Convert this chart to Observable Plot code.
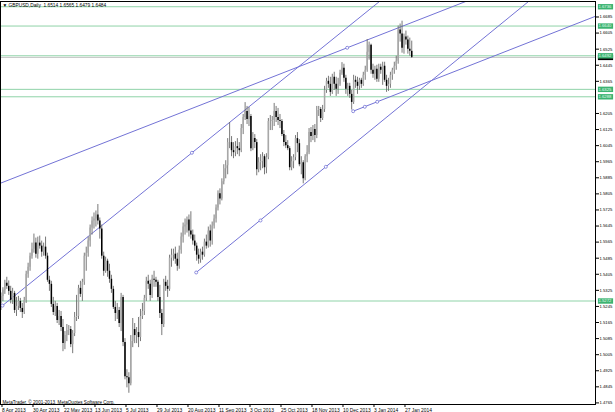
<!DOCTYPE html>
<html><head><meta charset="utf-8">
<script src="https://cdn.jsdelivr.net/npm/d3@7"></script>
<script src="https://cdn.jsdelivr.net/npm/@observablehq/plot@0.6"></script>
<style>html,body{margin:0;padding:0;background:#fff;}</style>
</head><body><div id="chart"></div>
<script>
// ---- data (daily bars, 8 Apr 2013 .. 31 Jan 2014) ----
const open = [
1.5260,1.5295,1.5325,1.5360,1.5345, 1.5320,1.5275,1.5310,1.5225,1.5245, 1.5270,1.5235,1.5215,1.5275,1.5405,
1.5440,1.5495,1.5530,1.5560,1.5505, 1.5560,1.5545,1.5515,1.5540,1.5495, 1.5375,1.5355,1.5255,1.5215,1.5245,
1.5175,1.5195,1.5140,1.5060,1.5100, 1.5125,1.5130,1.5055,1.5110,1.5190, 1.5195,1.5335,1.5305,1.5365,1.5495,
1.5510,1.5570,1.5635,1.5670,1.5680, 1.5700,1.5670,1.5630,1.5495,1.5420, 1.5470,1.5420,1.5380,1.5330,1.5240,
1.5210,1.5225,1.5160,1.5290,1.5065, 1.4895,1.4890,1.4860,1.5070,1.5130, 1.5100,1.5115,1.5090,1.5195,1.5220,
1.5285,1.5370,1.5355,1.5300,1.5380, 1.5375,1.5365,1.5290,1.5210,1.5155, 1.5365,1.5345,1.5330,1.5485,1.5500,
1.5505,1.5480,1.5445,1.5525,1.5590, 1.5640,1.5650,1.5675,1.5620,1.5600, 1.5570,1.5545,1.5500,1.5480,1.5515,
1.5500,1.5565,1.5545,1.5620,1.5570, 1.5645,1.5680,1.5735,1.5805,1.5780, 1.5865,1.5930,1.5945,1.6060,1.6060,
1.6020,1.6010,1.6040,1.6030,1.6020, 1.6130,1.6185,1.6215,1.6175,1.6190, 1.6030,1.6080,1.6060,1.5925,1.5960,
1.5965,1.5990,1.5935,1.5985,1.6165, 1.6165,1.6170,1.6215,1.6185,1.6170, 1.6165,1.6100,1.6060,1.6045,1.6030,
1.5935,1.5965,1.5985,1.6080,1.6055, 1.5950,1.5960,1.5880,1.5990,1.6010, 1.6110,1.6090,1.6125,1.6095,1.6220,
1.6225,1.6180,1.6225,1.6320,1.6365, 1.6350,1.6310,1.6385,1.6350,1.6325, 1.6350,1.6405,1.6430,1.6380,1.6325,
1.6340,1.6300,1.6260,1.6370,1.6360, 1.6340,1.6370,1.6350,1.6395, 1.6420,1.6510,1.6545,1.6420,
1.6400,1.6425,1.6375,1.6435,1.6420, 1.6440,1.6370,1.6340,1.6350,1.6395, 1.6420,1.6440,1.6465,1.6620,1.6600,
1.6530,1.6585,1.6570,1.6525,1.6514];
const high = [
1.5312,1.5338,1.5375,1.5390,1.5372, 1.5345,1.5335,1.5320,1.5290,1.5295, 1.5285,1.5260,1.5290,1.5420,1.5460,
1.5510,1.5560,1.5605,1.5585,1.5590, 1.5595,1.5570,1.5560,1.5590,1.5510, 1.5395,1.5370,1.5290,1.5270,1.5260,
1.5225,1.5220,1.5180,1.5120,1.5155, 1.5150,1.5145,1.5125,1.5215,1.5300, 1.5350,1.5370,1.5380,1.5510,1.5540,
1.5590,1.5650,1.5690,1.5710,1.5720, 1.5752,1.5685,1.5650,1.5515,1.5490, 1.5480,1.5455,1.5400,1.5345,1.5270,
1.5260,1.5240,1.5310,1.5300,1.5085, 1.4930,1.4915,1.5100,1.5185,1.5160, 1.5140,1.5190,1.5230,1.5260,1.5300,
1.5390,1.5400,1.5375,1.5400,1.5420, 1.5390,1.5375,1.5350,1.5230,1.5380, 1.5395,1.5375,1.5500,1.5530,1.5530,
1.5540,1.5510,1.5545,1.5610,1.5660, 1.5680,1.5690,1.5700,1.5716,1.5625, 1.5600,1.5560,1.5530,1.5530,1.5540,
1.5580,1.5600,1.5640,1.5650,1.5665, 1.5700,1.5750,1.5820,1.5830,1.5880, 1.5950,1.5970,1.6080,1.6160,1.6090,
1.6060,1.6065,1.6080,1.6060,1.6150, 1.6200,1.6259,1.6240,1.6235,1.6200, 1.6110,1.6100,1.6075,1.5985,1.6000,
1.6010,1.6000,1.6005,1.6180,1.6195, 1.6190,1.6255,1.6240,1.6230,1.6200, 1.6175,1.6120,1.6095,1.6070,1.6040,
1.5990,1.6000,1.6095,1.6110,1.6075, 1.5990,1.5970,1.6000,1.6045,1.6130, 1.6135,1.6145,1.6150,1.6240,1.6240,
1.6235,1.6245,1.6340,1.6380,1.6390, 1.6385,1.6400,1.6410,1.6385,1.6380, 1.6420,1.6458,1.6450,1.6395,1.6355,
1.6355,1.6320,1.6395,1.6390,1.6385, 1.6380,1.6380,1.6410,1.6440, 1.6573,1.6560,1.6550,1.6450,
1.6440,1.6445,1.6450,1.6450,1.6460, 1.6460,1.6395,1.6380,1.6410,1.6430, 1.6460,1.6490,1.6640,1.6650,1.6664,
1.6600,1.6615,1.6590,1.6580,1.6565];
const low = [
1.5225,1.5270,1.5305,1.5330,1.5300, 1.5258,1.5255,1.5210,1.5195,1.5225, 1.5215,1.5185,1.5205,1.5260,1.5385,
1.5420,1.5480,1.5510,1.5485,1.5480, 1.5530,1.5490,1.5495,1.5480,1.5365, 1.5320,1.5240,1.5200,1.5195,1.5160,
1.5150,1.5120,1.5020,1.5030,1.5070, 1.5100,1.5040,1.5010,1.5095,1.5170, 1.5180,1.5290,1.5270,1.5350,1.5420,
1.5490,1.5540,1.5600,1.5630,1.5640, 1.5650,1.5580,1.5480,1.5395,1.5410, 1.5390,1.5360,1.5310,1.5230,1.5170,
1.5180,1.5140,1.5120,1.5045,1.4880, 1.4840,1.4813,1.4850,1.5040,1.5060, 1.5060,1.5040,1.5070,1.5180,1.5200,
1.5270,1.5330,1.5270,1.5285,1.5340, 1.5340,1.5270,1.5185,1.5100,1.5140, 1.5320,1.5290,1.5320,1.5440,1.5470,
1.5455,1.5420,1.5430,1.5505,1.5560, 1.5600,1.5610,1.5590,1.5580,1.5550, 1.5520,1.5470,1.5455,1.5460,1.5475,
1.5490,1.5530,1.5535,1.5540,1.5550, 1.5630,1.5660,1.5720,1.5750,1.5770, 1.5850,1.5880,1.5900,1.6030,1.5990,
1.5980,1.5990,1.6000,1.5990,1.6010, 1.6100,1.6170,1.6150,1.6140,1.6015, 1.6020,1.6030,1.5895,1.5910,1.5920,
1.5930,1.5900,1.5905,1.5975,1.6120, 1.6120,1.6140,1.6160,1.6145,1.6130, 1.6090,1.6040,1.6030,1.6020,1.5920,
1.5920,1.5930,1.5970,1.6010,1.5940, 1.5900,1.5855,1.5870,1.5960,1.6000, 1.6060,1.6070,1.6060,1.6080,1.6190,
1.6160,1.6170,1.6210,1.6305,1.6330, 1.6290,1.6300,1.6320,1.6290,1.6300, 1.6340,1.6395,1.6360,1.6300,1.6290,
1.6280,1.6222,1.6250,1.6330,1.6300, 1.6320,1.6330,1.6340,1.6370, 1.6410,1.6470,1.6400,1.6380,
1.6370,1.6360,1.6360,1.6400,1.6345, 1.6360,1.6310,1.6315,1.6330,1.6370, 1.6400,1.6420,1.6450,1.6560,1.6505,
1.6500,1.6545,1.6500,1.6490,1.6479];
const close = [
1.5295,1.5325,1.5360,1.5345,1.5320, 1.5275,1.5310,1.5225,1.5245,1.5270, 1.5235,1.5215,1.5275,1.5405,1.5440,
1.5495,1.5530,1.5560,1.5505,1.5560, 1.5545,1.5515,1.5540,1.5495,1.5375, 1.5355,1.5255,1.5215,1.5245,1.5175,
1.5195,1.5140,1.5060,1.5100,1.5125, 1.5130,1.5055,1.5110,1.5190,1.5195, 1.5335,1.5305,1.5365,1.5495,1.5510,
1.5570,1.5635,1.5670,1.5680,1.5700, 1.5670,1.5630,1.5495,1.5420,1.5470, 1.5420,1.5380,1.5330,1.5240,1.5210,
1.5225,1.5160,1.5290,1.5065,1.4895, 1.4890,1.4860,1.5070,1.5130,1.5100, 1.5115,1.5090,1.5195,1.5220,1.5285,
1.5370,1.5355,1.5300,1.5380,1.5375, 1.5365,1.5290,1.5210,1.5155,1.5365, 1.5345,1.5330,1.5485,1.5500,1.5505,
1.5480,1.5445,1.5525,1.5590,1.5640, 1.5650,1.5675,1.5620,1.5600,1.5570, 1.5545,1.5500,1.5480,1.5515,1.5500,
1.5565,1.5545,1.5620,1.5570,1.5645, 1.5680,1.5735,1.5805,1.5780,1.5865, 1.5930,1.5945,1.6060,1.6060,1.6020,
1.6010,1.6040,1.6030,1.6020,1.6130, 1.6185,1.6215,1.6175,1.6190,1.6030, 1.6080,1.6060,1.5925,1.5960,1.5965,
1.5990,1.5935,1.5985,1.6165,1.6165, 1.6170,1.6215,1.6185,1.6170,1.6165, 1.6100,1.6060,1.6045,1.6030,1.5935,
1.5965,1.5985,1.6080,1.6055,1.5950, 1.5960,1.5880,1.5990,1.6010,1.6110, 1.6090,1.6125,1.6095,1.6220,1.6225,
1.6180,1.6225,1.6320,1.6365,1.6350, 1.6310,1.6385,1.6350,1.6325,1.6350, 1.6405,1.6430,1.6380,1.6325,1.6340,
1.6300,1.6260,1.6370,1.6360,1.6340, 1.6370,1.6350,1.6395,1.6420, 1.6510,1.6545,1.6420,1.6400,
1.6425,1.6375,1.6435,1.6420,1.6440, 1.6370,1.6340,1.6350,1.6395,1.6420, 1.6440,1.6465,1.6620,1.6600,1.6530,
1.6585,1.6570,1.6525,1.6514,1.6484];

const dateTickBars = [0,16,32,48,64,80,96,112,128,144,160,176,192,208];
const dateLabels = ["8 Apr 2013","30 Apr 2013","22 May 2013","13 Jun 2013","5 Jul 2013","29 Jul 2013","20 Aug 2013","11 Sep 2013","3 Oct 2013","25 Oct 2013","18 Nov 2013","10 Dec 2013","3 Jan 2014","27 Jan 2014"];
const priceTicks = [1.6685,1.6605,1.6525,1.6445,1.6365,1.6205,1.6125,1.6045,1.5965,1.5885,1.5805,1.5725,1.5645,1.5565,1.5485,1.5405,1.5325,1.5245,1.5165,1.5085,1.5005,1.4925,1.4845,1.4765];
const greenLevels = [1.6736,1.6640,1.6492,1.6325,1.6288,1.5272];
const bidPrice = 1.6484;

// trend lines: [bar, price] anchor points
const trendA = [[-1,1.58553],[260,1.68380]];
const trendB = [[-1,1.52354],[240,1.71094]];
const trendC = [[100.75,1.54139],[280,1.68228]];
const trendD = [[181.78,1.62163],[310,1.67006]];
const trendMarkers = [[178.68,1.65318],[0.774,1.52492],[98.53,1.60094],[100.75,1.54139],[133.94,1.56726],[167.64,1.59397],[181.78,1.62163],[187.77,1.62383],[194.17,1.62631]];

const titleText = "\u25BC GBPUSD,Daily  1.6514 1.6565 1.6479 1.6484";
const copyText = "MetaTrader, \u00A9 2001-2013, MetaQuotes Software Corp.";

// ---- build tables ----
const bars = open.map((o, i) => ({i, open: o, high: high[i], low: low[i], close: close[i]}));
const up = bars.filter(d => d.close >= d.open);
const down = bars.filter(d => d.close < d.open);
const trendRows = [];
[["A",trendA],["B",trendB],["C",trendC],["D",trendD]].forEach(([id, pts]) =>
  pts.forEach(([b, p]) => trendRows.push({id, bar: b, price: p})));
const markerRows = trendMarkers.map(([b, p]) => ({bar: b, price: p}));

const boxSymbol = {draw(ctx) { ctx.moveTo(-7.6,-2.7); ctx.lineTo(7.6,-2.7); ctx.lineTo(7.6,2.7); ctx.lineTo(-7.6,2.7); ctx.closePath(); }};
const trendColor = "#7373d6";
const font = "'Liberation Sans', Arial, sans-serif";

const chart = Plot.plot({
  width: 615, height: 412,
  marginLeft: 0, marginRight: 20, marginTop: 1, marginBottom: 8,
  style: {background: "#fff", fontFamily: font, fontSize: "4.8px", color: "#000"},
  x: {domain: [-0.258, 306.85]},
  y: {domain: [1.47571, 1.67621]},
  marks: [
    Plot.ruleY(greenLevels, {stroke: "#8fd3a8", strokeWidth: 1}),
    Plot.ruleY([bidPrice], {stroke: "#c4c4c4", strokeWidth: 1}),
    Plot.line(trendRows, {x: "bar", y: "price", z: "id", stroke: trendColor, strokeWidth: 1, clip: true}),
    Plot.ruleX(bars, {x: "i", y1: "low", y2: "high", stroke: "#6a6a6a", strokeWidth: 0.9}),
    Plot.ruleX(up, {x: "i", y1: "open", y2: "close", stroke: "#a8a8a8", strokeWidth: 1.5}),
    Plot.ruleX(down, {x: "i", y1: "open", y2: "close", stroke: "#000", strokeWidth: 1.5}),
    Plot.dot(markerRows, {x: "bar", y: "price", r: 1.5, stroke: trendColor, fill: "#fff", strokeWidth: 0.8}),
    Plot.axisX({ticks: dateTickBars, tickFormat: (d) => dateLabels[dateTickBars.indexOf(d)], tickSize: 3, tickPadding: 1, textAnchor: "start", dx: 1, fontSize: 4.9, label: null}),
    Plot.axisY({anchor: "right", ticks: priceTicks, tickFormat: d3.format(".4f"), tickSize: 3, tickPadding: 1, textAnchor: "start", fontSize: 4.2, label: null}),
    Plot.frame({stroke: "#000"}),
    Plot.dot([bidPrice], {y: d => d, frameAnchor: "right", dx: 10, symbol: boxSymbol, fill: "#000", stroke: "none"}),
    Plot.dot(greenLevels, {y: d => d, frameAnchor: "right", dx: 10, symbol: boxSymbol, fill: "#3cb371", stroke: "none"}),
    Plot.text(greenLevels, {y: d => d, text: d => d.toFixed(4), frameAnchor: "right", dx: 3, textAnchor: "start", fill: "#e8fff0", fontSize: 4.2}),
    Plot.text([titleText], {frameAnchor: "top-left", dx: 2, dy: 2, lineAnchor: "top", textAnchor: "start", fill: "#000", fontSize: 4.8}),
    Plot.text([copyText], {frameAnchor: "bottom-left", dx: 2, dy: -1, lineAnchor: "bottom", textAnchor: "start", fill: "#000", fontSize: 4.6})
  ]
});
document.getElementById("chart").appendChild(chart);
</script>
</body></html>
